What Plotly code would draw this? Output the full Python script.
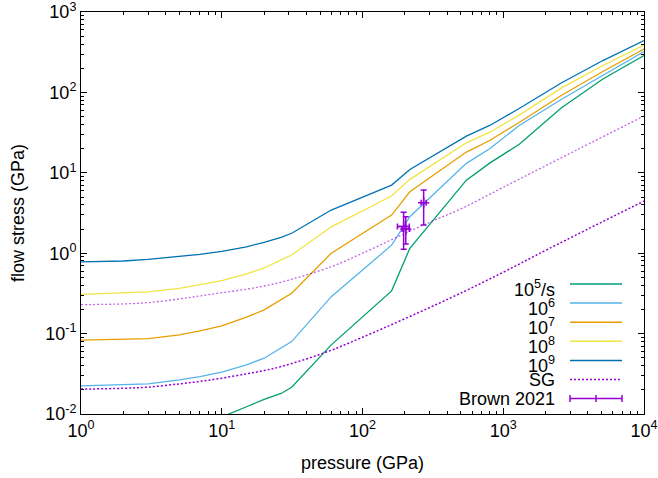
import plotly.graph_objects as go

# ---------------- data ----------------
pressure = [1, 2, 3, 5, 7, 10, 15, 20, 26.4, 31.4, 60, 161, 217, 547, 801, 1306, 2581, 5100, 10000]

rate_1e5 = [0.0036, 0.0040, 0.0045, 0.0057, 0.0069, 0.0092, 0.0123, 0.0152, 0.018, 0.0215,
            0.0724, 0.34, 1.15, 8.1, 13.2, 22.8, 64, 147, 287]
rate_1e6 = [0.0224, 0.0229, 0.0237, 0.0266, 0.0292, 0.0331, 0.0408, 0.0494, 0.0658, 0.0796,
            0.288, 1.26, 2.84, 13.1, 19.9, 39.1, 81.7, 162, 322]
rate_1e7 = [0.0828, 0.0843, 0.0867, 0.0964, 0.108, 0.125, 0.160, 0.197, 0.262, 0.318,
            1.0, 2.98, 5.81, 18.1, 25.2, 42.6, 91.5, 182, 347]
rate_1e8 = [0.308, 0.318, 0.33, 0.366, 0.403, 0.456, 0.552, 0.655, 0.824, 0.95,
            2.13, 5.14, 8.28, 23.6, 32.0, 52.6, 113, 216, 389]
rate_1e9 = [0.778, 0.80, 0.84, 0.905, 0.968, 1.055, 1.20, 1.365, 1.57, 1.77,
            3.44, 7.03, 11.0, 28.6, 38.8, 63.6, 131, 249, 441]

sg_hi_p = [1, 2, 3, 5, 7, 10, 15, 20, 26.4, 60, 100, 270, 491, 1000, 3300, 10000]
sg_hi = [0.229, 0.234, 0.243, 0.27, 0.294, 0.323, 0.356, 0.391, 0.435, 0.68, 1.0, 2.24, 3.51, 6.6, 19.1, 50.8]
sg_lo_p = [1, 2, 3, 5, 7, 10, 15, 20, 26.4, 52.6, 100, 417, 1000, 2134, 10000]
sg_lo = [0.0204, 0.0209, 0.0216, 0.0237, 0.0254, 0.0279, 0.0316, 0.0347, 0.0389, 0.057, 0.09, 0.275, 0.58, 1.15, 4.45]

brown_p = [196, 203, 272]
brown_p_err = [19, 12, 11]
brown_s = [2.15, 2.0, 4.24]
brown_s_plus = [1.07, 0.84, 1.86]
brown_s_minus = [1.03, 0.7, 2.0]

x_tick_vals = [1, 10, 100, 1000, 10000]
x_tick_text = ["10<sup>0</sup>", "10<sup>1</sup>", "10<sup>2</sup>", "10<sup>3</sup>", "10<sup>4</sup>"]
y_tick_vals = [0.01, 0.1, 1, 10, 100, 1000]
y_tick_text = ["10<sup>-2</sup>", "10<sup>-1</sup>", "10<sup>0</sup>", "10<sup>1</sup>", "10<sup>2</sup>", "10<sup>3</sup>"]

legend_labels = ["10<sup>5</sup>/s", "10<sup>6</sup>", "10<sup>7</sup>", "10<sup>8</sup>", "10<sup>9</sup>", "SG", "Brown 2021"]

# ---------------- styles ----------------
C_GREEN = "#009e73"
C_LBLUE = "#56b4e9"
C_ORANGE = "#e69f00"
C_YELLOW = "#f0e442"
C_BLUE = "#0072b2"
C_PURPLE = "#9400d3"
C_PURPLE_LIGHT = "rgba(148,0,211,0.6)"
FONT = "Liberation Sans, Arial, sans-serif"

W, H = 658, 478
ML, MR, MT, MB = 81, 14, 12, 64
PW, PH = W - ML - MR, H - MT - MB

fig = go.Figure()

rate_series = [
    (rate_1e5, C_GREEN), (rate_1e6, C_LBLUE), (rate_1e7, C_ORANGE),
    (rate_1e8, C_YELLOW), (rate_1e9, C_BLUE),
]
for vals, col in rate_series:
    fig.add_trace(go.Scatter(x=pressure, y=vals, mode="lines",
                             line=dict(color=col, width=1.3), showlegend=False))

fig.add_trace(go.Scatter(x=sg_hi_p, y=sg_hi, mode="lines",
                         line=dict(color=C_PURPLE_LIGHT, width=1.3, dash="2px,2px"),
                         line_shape="spline", showlegend=False))
fig.add_trace(go.Scatter(x=sg_lo_p, y=sg_lo, mode="lines",
                         line=dict(color=C_PURPLE, width=1.5, dash="2px,2px"),
                         line_shape="spline", showlegend=False))

fig.add_trace(go.Scatter(
    x=brown_p, y=brown_s, mode="markers",
    marker=dict(symbol="cross-thin", size=8, color=C_PURPLE, line=dict(color=C_PURPLE, width=1.5)),
    error_x=dict(type="data", array=brown_p_err, color=C_PURPLE, thickness=1.5, width=3),
    error_y=dict(type="data", array=brown_s_plus, arrayminus=brown_s_minus,
                 color=C_PURPLE, thickness=1.5, width=3),
    showlegend=False))

# ---------------- custom gnuplot-style key ----------------
def px_to_paper_x(px):
    return (px - ML) / PW

def px_to_paper_y(py):
    return (MT + PH - py) / PH

key_colors = [C_GREEN, C_LBLUE, C_ORANGE, C_YELLOW, C_BLUE, C_PURPLE, C_PURPLE]
key_y0, key_dy = 284, 19.1
key_x0, key_x1, key_text_x = 570, 622, 557
shapes = []
annotations = []
for i, (lab, col) in enumerate(zip(legend_labels, key_colors)):
    yy = key_y0 + i * key_dy
    dash = "solid"
    if lab == "SG":
        dash = "2px,2px"
    shapes.append(dict(type="line", xref="paper", yref="paper",
                       x0=px_to_paper_x(key_x0), x1=px_to_paper_x(key_x1),
                       y0=px_to_paper_y(yy), y1=px_to_paper_y(yy),
                       line=dict(color=col, width=1.5, dash=dash)))
    if lab == "Brown 2021":
        for tx in (key_x0, (key_x0 + key_x1) / 2, key_x1):
            shapes.append(dict(type="line", xref="paper", yref="paper",
                               x0=px_to_paper_x(tx), x1=px_to_paper_x(tx),
                               y0=px_to_paper_y(yy - 3.5), y1=px_to_paper_y(yy + 3.5),
                               line=dict(color=col, width=1.5)))
    shift = -4 if "sup" in lab else 0
    annotations.append(dict(xref="paper", yref="paper", x=px_to_paper_x(key_text_x),
                            y=px_to_paper_y(yy), xanchor="right", yanchor="middle",
                            yshift=shift, text=lab, showarrow=False,
                            font=dict(family=FONT, size=18, color="black")))

# axis titles placed like gnuplot's
annotations.append(dict(xref="paper", yref="paper", x=0.5, y=px_to_paper_y(463),
                        xanchor="center", yanchor="middle", text="pressure (GPa)",
                        showarrow=False, font=dict(family=FONT, size=18, color="black")))
annotations.append(dict(xref="paper", yref="paper", x=px_to_paper_x(18), y=0.5,
                        xanchor="center", yanchor="middle", text="flow stress (GPa)",
                        textangle=-90, showarrow=False,
                        font=dict(family=FONT, size=18, color="black")))

axis_common = dict(
    type="log", showgrid=False, zeroline=False, showline=True, linecolor="black",
    linewidth=1, mirror="allticks", ticks="inside", ticklen=6, tickwidth=1,
    tickcolor="black", tickfont=dict(family=FONT, size=18, color="black"),
    tickmode="array", automargin=False, ticklabeloverflow="allow",
    minor=dict(ticks="inside", ticklen=3, tickwidth=1, tickcolor="black", dtick="D1", showgrid=False),
)

fig.update_layout(
    width=W, height=H,
    margin=dict(l=ML, r=MR, t=MT, b=MB),
    paper_bgcolor="white", plot_bgcolor="white",
    font=dict(family=FONT, size=18, color="black"),
    xaxis=dict(axis_common, range=[0, 4.00001], tickvals=x_tick_vals, ticktext=x_tick_text),
    yaxis=dict(axis_common, range=[-2, 3.00001], tickvals=y_tick_vals, ticktext=y_tick_text),
    shapes=shapes, annotations=annotations,
)

fig.write_html("out.html", config={"displayModeBar": False},
               post_script="document.body.style.margin='0';document.body.style.overflow='hidden';")
